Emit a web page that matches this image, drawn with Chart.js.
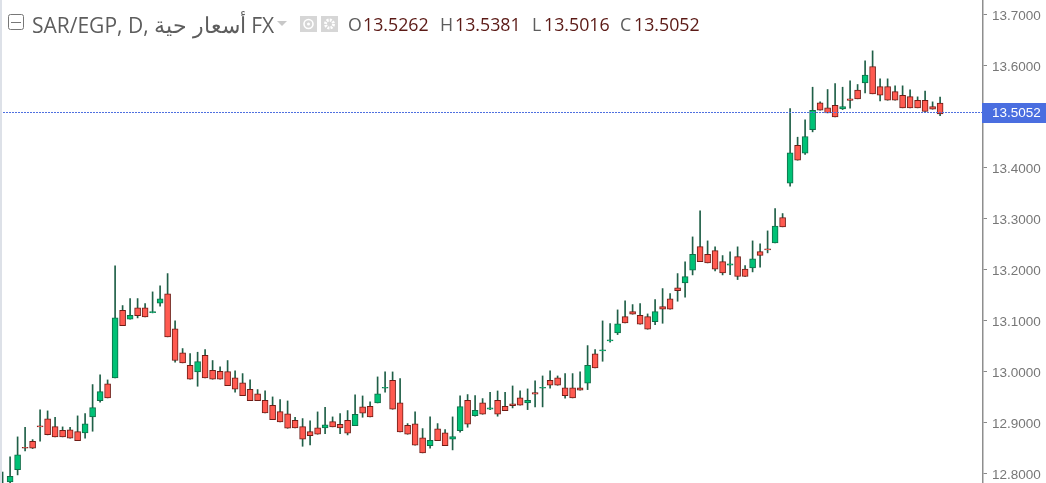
<!DOCTYPE html>
<html>
<head>
<meta charset="utf-8">
<script src="https://cdn.jsdelivr.net/npm/chart.js@4"></script>
<style>
html, body { margin: 0; padding: 0; background: #fff; overflow: hidden; }
#wrap { position: relative; width: 1046px; height: 483px; filter: blur(0.3px); }
#edge { position: absolute; left: 0; top: 0; width: 2px; height: 483px; background: #dde1e8; }
.lg { position: absolute; top: 12px; font: 17.8px/24px "Open Sans", sans-serif; color: #5d5d5d; white-space: nowrap; }
.title { font-size: 21px; left: 32px; }
.title span { font-size: 22px; }
.val { color: #5b1a16; }
#icons { position: absolute; left: 0; top: 0; }
canvas { display: block; }
</style>
</head>
<body>
<div id="wrap">
  <canvas id="priceChart" width="1046" height="483"></canvas>
  <div id="edge"></div>
  <svg id="icons" width="345" height="40">
    <rect x="8.5" y="14.5" width="15" height="15" rx="2" fill="#fff" stroke="#777"/>
    <line x1="11" y1="22.5" x2="21" y2="22.5" stroke="#777"/>
    <path d="M277 21 L287 21 L282 26 Z" fill="#c8c8c8"/>
    <rect x="300" y="16" width="17" height="16" fill="#d6d6d6"/>
    <circle cx="308.5" cy="24" r="4.5" fill="none" stroke="#fff" stroke-width="1.6"/>
    <circle cx="308.5" cy="24" r="1.5" fill="#fff"/>
    <rect x="321" y="16" width="17" height="16" fill="#d6d6d6"/>
    <circle cx="329.5" cy="24" r="4" fill="none" stroke="#fff" stroke-width="3" stroke-dasharray="2 1.1"/>
  </svg>
  <div class="lg title">SAR/EGP, D, <span>أسعار حية</span> FX</div>
  <div class="lg" style="left:348px">O</div><div class="lg val" style="left:363px">13.5262</div>
  <div class="lg" style="left:440px">H</div><div class="lg val" style="left:455px">13.5381</div>
  <div class="lg" style="left:532px">L</div><div class="lg val" style="left:544px">13.5016</div>
  <div class="lg" style="left:620px">C</div><div class="lg val" style="left:634px">13.5052</div>
</div>
<script>
// SAR/EGP daily candles
const opens = [12.7700,12.7836,12.8078,12.8516,12.8634,12.8934,12.9072,12.8921,12.8850,12.8856,12.8823,12.8797,12.9111,12.9431,12.9758,12.9876,13.1202,13.1026,13.1248,13.1248,13.1157,13.1340,13.1523,13.0836,13.0366,13.0124,12.9993,13.0320,13.0026,13.0006,13.0000,12.9876,
  12.9777,12.9653,12.9562,12.9437,12.9339,12.9215,12.9169,12.9045,12.8921,12.8823,12.8895,12.8895,12.9019,12.8967,12.9045,12.8941,12.9307,12.9320,12.9385,12.9673,12.9830,12.9385,12.8947,12.8973,12.8699,12.8549,12.8875,12.8797,12.8673,12.8843,12.9437,12.9137,12.9385,
  12.9261,12.9437,12.9320,12.9365,12.9483,12.9385,12.9588,12.9673,12.9830,12.9875,12.9679,12.9679,12.9679,12.9771,13.0346,13.0405,13.0601,13.0758,13.1078,13.1176,13.1104,13.1078,13.0980,13.1274,13.1424,13.1640,13.1738,13.1986,13.2450,13.2300,13.2372,13.2156,
  13.2085,13.2255,13.2007,13.2033,13.2353,13.2405,13.2523,13.3020,13.3693,13.4438,13.4281,13.4745,13.5268,13.5170,13.5222,13.5151,13.5347,13.5517,13.5660,13.5981,13.5588,13.5588,13.5490,13.5418,13.5392,13.5320,13.5320,13.5196,13.5262];
const highs = [12.8030,12.8327,12.8719,12.8908,12.8666,12.9248,12.9229,12.9104,12.8915,12.8908,12.9131,12.9176,12.9745,12.9934,12.9836,13.2072,13.1294,13.1431,13.1431,13.1333,13.1562,13.1680,13.1921,13.0993,13.0451,13.0353,13.0379,13.0431,13.0216,13.0091,13.0216,13.0013,
  12.9960,12.9836,12.9647,12.9620,12.9503,12.9451,12.9424,12.9104,12.9078,12.9032,12.9209,12.9300,12.9111,12.9176,12.9235,12.9542,12.9522,12.9405,12.9895,12.9993,12.9993,12.9862,12.8980,12.9209,12.8882,12.9111,12.8980,12.8862,12.9111,12.9522,12.9549,12.9529,12.9470,
  12.9594,12.9620,12.9594,12.9718,12.9620,12.9660,12.9816,12.9914,13.0013,12.9914,12.9960,12.9960,12.9993,13.0509,13.0431,13.0993,13.0941,13.1209,13.1385,13.1313,13.1333,13.1130,13.1411,13.1627,13.1529,13.1921,13.2150,13.2640,13.3150,13.2562,13.2444,13.2274,
  13.2347,13.2445,13.2079,13.2562,13.2503,13.2758,13.3196,13.3098,13.5157,13.4595,13.4935,13.5575,13.5288,13.5530,13.5647,13.5575,13.5700,13.5628,13.6092,13.6288,13.5739,13.5739,13.5602,13.5602,13.5523,13.5386,13.5497,13.5288,13.5381];
const lows = [12.7600,12.7800,12.7974,12.8444,12.8490,12.8634,12.8758,12.8719,12.8719,12.8693,12.8647,12.8693,12.8830,12.9399,12.9483,12.9876,13.0902,13.1026,13.1052,13.1072,13.1150,13.1281,13.0680,13.0183,13.0170,12.9850,12.9712,12.9876,12.9850,12.9850,12.9725,12.9595,
  12.9529,12.9431,12.9431,12.9189,12.9058,12.9013,12.8888,12.8895,12.8535,12.8562,12.8771,12.8784,12.8915,12.8784,12.8758,12.8941,12.9104,12.9111,12.9385,12.9594,12.9261,12.8817,12.8771,12.8555,12.8405,12.8496,12.8647,12.8549,12.8464,12.8810,12.8908,12.9124,12.9163,
  12.9254,12.9124,12.9235,12.9287,12.9339,12.9254,12.9307,12.9307,12.9673,12.9731,12.9477,12.9483,12.9633,12.9646,13.0071,13.0202,13.0575,13.0725,13.0954,13.1124,13.0928,13.0830,13.0921,13.0947,13.1222,13.1379,13.1457,13.1895,13.2156,13.2130,13.1973,13.1895,
  13.1902,13.1804,13.1863,13.1954,13.2046,13.2327,13.2523,13.2837,13.3634,13.4144,13.4255,13.4700,13.5124,13.5072,13.4994,13.5137,13.5164,13.5347,13.5464,13.5445,13.5307,13.5320,13.5320,13.5170,13.5170,13.5170,13.5098,13.5144,13.5016];
const closes = [12.7760,12.7948,12.8366,12.8497,12.8497,12.8915,12.8765,12.8719,12.8719,12.8693,12.8647,12.8974,12.9294,12.9608,12.9483,13.1052,13.0902,13.1104,13.1098,13.1072,13.1176,13.1425,13.0680,13.0216,13.0170,12.9850,13.0196,12.9876,12.9850,12.9850,12.9725,12.9653,
  12.9529,12.9431,12.9431,12.9189,12.9058,12.9013,12.8888,12.8895,12.8673,12.8745,12.8771,12.8954,12.8915,12.8895,12.8790,12.9163,12.9183,12.9111,12.9562,12.9692,12.9261,12.8817,12.8771,12.8555,12.8405,12.8653,12.8647,12.8549,12.8725,12.9313,12.8967,12.9241,12.9163,
  12.9287,12.9163,12.9235,12.9333,12.9339,12.9437,12.9555,12.9692,12.9731,12.9731,12.9529,12.9483,12.9633,13.0124,13.0071,13.0424,13.0620,13.0934,13.0954,13.1124,13.0928,13.0830,13.1176,13.1222,13.1222,13.1588,13.1862,13.2300,13.2156,13.2130,13.2006,13.1934,
  13.2111,13.1863,13.1863,13.2209,13.2275,13.2386,13.2850,13.2837,13.4288,13.4144,13.4608,13.5124,13.5124,13.5072,13.4994,13.5196,13.5314,13.5347,13.5811,13.5445,13.5418,13.5320,13.5320,13.5170,13.5170,13.5170,13.5098,13.5144,13.5052];
const tickLabels = [13.7, 13.6, 13.4, 13.3, 13.2, 13.1, 13.0, 12.9, 12.8];
const lastPrice = 13.5052;

const sessions = opens.map((_, i) => i);
const isUp = i => closes[i] >= opens[i];

// blue price tag and dotted line of the last close
const lastPriceTag = {
    id: 'lastPriceTag',
    afterDatasetsDraw(chart) {
        const { ctx, chartArea, scales } = chart;
        const y = Math.floor(scales.y.getPixelForValue(lastPrice)) - 0.5;
        ctx.save();
        ctx.strokeStyle = '#4f70e0';
        ctx.lineWidth = 1;
        ctx.setLineDash([2, 1]);
        ctx.beginPath();
        ctx.moveTo(chartArea.left, y);
        ctx.lineTo(chartArea.right, y);
        ctx.stroke();
        ctx.setLineDash([]);
        ctx.fillStyle = '#4a6ee0';
        ctx.fillRect(chartArea.right - 1, y - 9.5, chart.width - chartArea.right + 1, 20);
        ctx.fillStyle = '#fff';
        ctx.font = '13.5px "Liberation Sans"';
        ctx.textBaseline = 'middle';
        ctx.fillText(lastPrice.toFixed(4), chartArea.right + 9, y + 1);
        ctx.restore();
    }
};

new Chart(document.getElementById('priceChart').getContext('2d'), {
    type: 'bar',
    data: {
        labels: sessions,
        datasets: [
            {
                label: 'High-Low',
                data: sessions.map(i => [lows[i], highs[i]]),
                backgroundColor: '#1f5f47',
                barThickness: 1,
                order: 2
            },
            {
                label: 'Open-Close',
                data: sessions.map(i => [Math.min(opens[i], closes[i]), Math.max(opens[i], closes[i])]),
                backgroundColor: sessions.map(i => isUp(i) ? '#00c176' : '#ff5a50'),
                borderColor: sessions.map(i => isUp(i) ? '#0f6e48' : '#701c16'),
                borderWidth: 1,
                borderSkipped: false,
                barThickness: 6,
                order: 1
            }
        ]
    },
    options: {
        responsive: false,
        animation: false,
        layout: { padding: 0 },
        plugins: { legend: { display: false }, tooltip: { enabled: false } },
        datasets: { bar: { grouped: false } },
        scales: {
            x: { type: 'linear', display: false, offset: false, min: -0.347, max: 130.72 },
            y: {
                position: 'right',
                min: 12.7815,
                max: 13.7285,
                afterBuildTicks: axis => { axis.ticks = tickLabels.map(v => ({ value: v })); },
                afterFit: axis => {
                    axis.width = 63;
                    axis.paddingTop = 0;
                    axis.paddingBottom = 0;
                },
                grid: { drawOnChartArea: false, drawTicks: true, tickLength: 4, color: '#888', tickColor: '#888' },
                border: { color: '#8e8e8e', width: 1.5 },
                ticks: {
                    autoSkip: false,
                    padding: 5,
                    labelOffset: 1.5,
                    color: '#777',
                    font: { family: '"Liberation Sans"', size: 13.5 },
                    callback: v => Number(v).toFixed(4)
                }
            }
        }
    },
    plugins: [lastPriceTag]
});
</script>
</body>
</html>
